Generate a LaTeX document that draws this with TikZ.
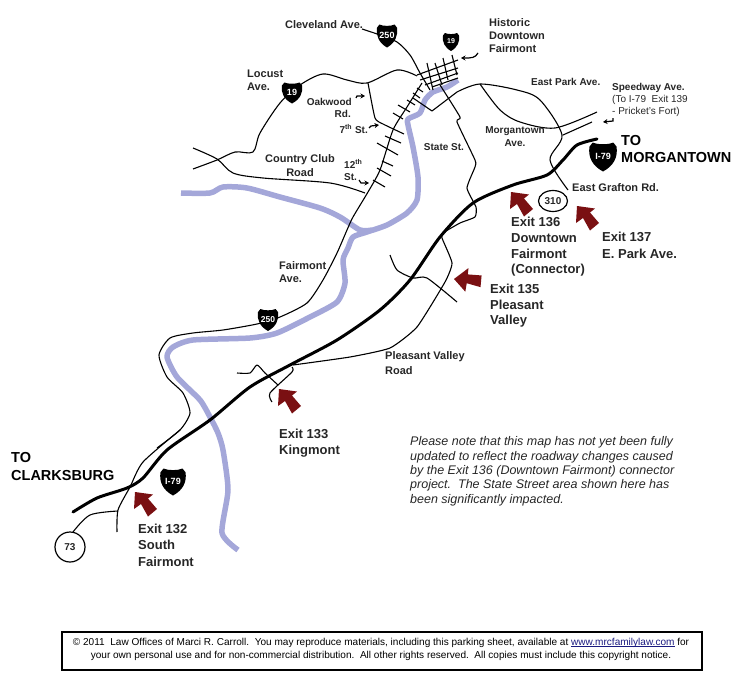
\documentclass[tikz,border=0pt]{standalone}
\usepackage{fontspec}
\setmainfont{Liberation Sans}
\usetikzlibrary{arrows.meta,shapes.geometric}
\definecolor{river}{HTML}{A4A7D9}
\definecolor{exitred}{HTML}{7A1012}
\definecolor{inktext}{HTML}{262626}
\newcommand{\fs}[1]{\fontsize{#1}{#1}\selectfont}
\newcommand{\linkline}[1]{\setbox0\hbox{#1}\rlap{\rule[-1.4pt]{\wd0}{.55pt}}\box0}
\newcommand{\shieldmark}[7]{%
  \begin{scope}[shift={(#2,#3)},x=#4pt,y=#5pt]
    \fill[black] (-.5,.36) -- (-.38,.5) .. controls (-.2,.42) and (.2,.42) .. (.38,.5) -- (.5,.36)
      .. controls (.56,0) and (.4,-.3) .. (0,-.5) .. controls (-.4,-.3) and (-.56,0) .. (-.5,.36) -- cycle;
    \node[shieldtext,font=\bfseries\fs{#7}] (#1) at (0,.03) {#6};
  \end{scope}}
\newcommand{\exitarrow}[4]{%
  \begin{scope}[shift={(#2,#3)},rotate=#4]
    \fill[exitred] (0,0) -- (-1,17) -- (6,12) -- (13,24.5) -- (22,17) -- (13,6.5) -- (18,2.5) -- cycle;
    \coordinate (#1) at (0,0);
  \end{scope}}
\tikzset{
  rivercourse/.style={draw=river,line width=5.5pt,line join=round,line cap=butt},
  road/.style={draw=black,line width=1.1pt,line join=round},
  interstate/.style={draw=black,line width=3pt,line join=round,line cap=round},
  tie/.style={draw=black,line width=1.1pt},
  pointer/.style={draw=black,line width=1.2pt,-{Stealth[length=4.5pt,width=5pt]}},
  lab/.style={text=inktext,font=\bfseries\fs{11},align=center,inner sep=0pt},
  labl/.style={lab,anchor=west,align=left},
  labr/.style={lab,anchor=east,align=right},
  plain/.style={text=inktext,font=\fs{11},anchor=west,inner sep=0pt},
  exitlab/.style={text=inktext,font=\bfseries\fs{13},anchor=west,inner sep=0pt},
  bigl/.style={text=black,font=\bfseries\fs{14.5},anchor=west,inner sep=0pt},
  note/.style={text=inktext,font=\itshape\fs{12.5},anchor=west,inner sep=0pt},
  copyl/.style={text=black,font=\fs{10.05},inner sep=0pt},
  shieldtext/.style={text=white,inner sep=0pt}
}
\begin{document}
\begin{tikzpicture}[x=1pt,y=-1pt]
\useasboundingbox (0,0) rectangle (737,680);
% rivers
\draw[rivercourse] plot[smooth,tension=.45] coordinates {(181,193)(210,193)(223,187)(247,188)(280,197)(320,208)(340,217)(360,230)(372,230)};
\draw[rivercourse] plot[smooth,tension=.4] coordinates {(458,80)(447,87)(433,92)(425,100)(420,113)(408,119)(408,125)(413,147)(418,177)(417,200)(407,213)(387,225)(367,232)(353,237)(348,248)(343,260)(345,283)(337,302)(310,317)(277,333)(250,338)(193,340)(173,347)(167,357)(177,377)(200,400)(210,417)(218,433)(223,450)(228,490)(222,533)(238,550)};
% roads
\draw[road] plot[smooth,tension=.5] coordinates {(362,29)(380,35)(397,42)(410,55)(420,73)(430,90)};
\draw[road] plot[smooth,tension=.5] coordinates {(193,169)(217,160)(235,152)(253,152)(260,133)(280,103)(300,85)(323,74)(347,80)(367,83)(397,70)(417,76)};
\draw[road] plot[smooth,tension=.5] coordinates {(193,148)(217,159)(233,173)(263,178)(330,183)(365,193)};
\draw[road] plot[smooth,tension=.3] coordinates {(368,83)(375,118)(383,124)(404,134)};
\draw[road] plot[smooth,tension=.4] coordinates {(422,83)(407,107)(393,130)(380,170)(368,192)(353,217)(347,230)(337,253)(323,280)(307,303)(280,317)(257,324)(223,330)(193,333)(170,338)(159,355)(167,377)(183,393)(190,413)(180,430)(157,448)};
\draw[road] plot[smooth,tension=.4] coordinates {(180,430)(143,462)(130,487)(118,510)(117,532)};
\draw[road] plot[smooth,tension=.5] coordinates {(73,532)(90,515)(118,511)};
\foreach \a/\b/\c/\d in {373/180/385/187,377/168/391/176,382/161/393/166,377/143/398/155,385/136/401/143,393/113/403/119,398/105/410/112,407/100/415/105,413/93/420/98,417/88/423/92}
  \draw[tie] (\a,\b) -- (\c,\d);
\foreach \a/\b/\c/\d in {417/75/458/60,420/80/458/68,425/85/458/73,432/87/458/78,427/63/433/90,435/63/442/85,443/58/448/80,452/55/457/75}
  \draw[tie] (\a,\b) -- (\c,\d);
\draw[road] plot[smooth,tension=.3] coordinates {(440,85)(460,117)(457,122)(475,160)(475,167)(467,188)(476,207)(475,217)(460,223)(443,233)(442,238)(452,263)(445,282)(417,327)(390,348)(350,357)(293,365)};
\draw[road] plot[smooth,tension=.4] coordinates {(292,367)(292,372)(270,393)(272,402)};
\draw[road] plot[smooth,tension=.4] coordinates {(237,373)(250,373)(257,365)(265,373)(278,385)};
\draw[road] plot[smooth,tension=.4] coordinates {(390,255)(397,270)(413,278)(427,278)(457,302)};
\draw[road] (413,98) -- (432,111) -- (457,92);
\draw[road] plot[smooth,tension=.5] coordinates {(457,92)(480,84)(517,90)(540,100)(562,135)(550,160)(568,190)};
\draw[road] plot[smooth,tension=.5] coordinates {(480,84)(500,110)(520,122)(555,128)(597,112)};
\draw[road] (563,135) -- (592,122);
% interstate
\draw[interstate] plot[smooth,tension=.45] coordinates {(73,512)(97,498)(127,488)(143,478)(167,450)(210,420)(250,387)(290,365)(337,340)(380,310)(410,280)(440,237)(473,203)(513,185)(547,175)(563,160)(577,145)(597,139)};
% shields
\shieldmark{sa}{387}{36}{20}{23}{250}{9}
\shieldmark{sb}{451}{42}{16}{18}{19}{7}
\shieldmark{sc}{292}{93}{20}{21}{19}{9}
\shieldmark{sd}{268}{320}{20}{22}{250}{8.5}
\shieldmark{se}{603}{157}{27}{29}{I-79}{9}
\shieldmark{sf}{173}{482}{25}{27}{I-79}{9}
% route circles
\node[draw=black,line width=1.2pt,ellipse,minimum width=29pt,minimum height=21pt,inner sep=0pt,font=\bfseries\fs{10},text=inktext] (r310) at (553,201) {310};
\node[draw=black,line width=1.2pt,circle,minimum size=30pt,inner sep=0pt,font=\bfseries\fs{10},text=inktext] (r73) at (70,547) {73};
% red arrows
\exitarrow{ea}{511}{192}{0}
\exitarrow{eb}{577}{206}{0}
\exitarrow{ec}{279}{389}{0}
\exitarrow{ed}{135}{492}{0}
\exitarrow{ee}{454}{279}{45}
% small pointers
\draw[pointer] (478,53) .. controls (475,58) and (472,58) .. (461,58);
\draw[pointer] (356,98) -- (357,96) -- (365,96);
\draw[pointer] (369,128) -- (371,126) -- (379,125);
\draw[pointer] (359,180) -- (361,183) -- (369,183);
\draw[pointer] (613,118) -- (613,121) -- (603,122);
% labels
\node[lab] (tcleve) at (324,25) {Cleveland Ave.};
\node[labl] (thist) at (489,23) {Historic};
\node[labl] (tdown) at (489,36) {Downtown};
\node[labl] (tfair) at (489,49) {Fairmont};
\node[labl] (tloc) at (247,74) {Locust};
\node[labl] (tlocb) at (247,87) {Ave.};
\node[labr,font=\bfseries\fs{10}] (toak) at (352,102) {Oakwood};
\node[labr,font=\bfseries\fs{10}] (toakb) at (351,114) {Rd.};
\node[labr,font=\bfseries\fs{10}] (tseven) at (368,129) {7\textsuperscript{th} St.};
\node[labl,font=\bfseries\fs{10}] (ttw) at (344,164) {12\textsuperscript{th}};
\node[labl,font=\bfseries\fs{10}] (ttwb) at (344,177) {St.};
\node[lab] (tcc) at (300,160) {Country Club};
\node[lab] (tccb) at (300,173) {Road};
\node[lab,font=\bfseries\fs{10}] (tstate) at (444,147) {State St.};
\node[labl,font=\bfseries\fs{10}] (tep) at (531,82) {East Park Ave.};
\node[labl,font=\bfseries\fs{10}] (tsp) at (612,88) {Speedway Ave.};
\node[plain,font=\fs{10}] (tspb) at (612,100) {(To I-79\ \ Exit 139};
\node[plain,font=\fs{10}] (tspc) at (612,112) {- Pricket's Fort)};
\node[lab,font=\bfseries\fs{10}] (tmg) at (515,131) {Morgantown};
\node[lab,font=\bfseries\fs{10}] (tmgb) at (515,143) {Ave.};
\node[bigl] (tto) at (621,141) {TO};
\node[bigl] (tmor) at (621,158) {MORGANTOWN};
\node[labl] (tgraf) at (572,188) {East Grafton Rd.};
\node[exitlab] (xa) at (511,222) {Exit 136};
\node[exitlab] (xb) at (511,238) {Downtown};
\node[exitlab] (xc) at (511,254) {Fairmont};
\node[exitlab] (xd) at (511,270) {(Connector)};
\node[exitlab] (xe) at (602,237) {Exit 137};
\node[exitlab] (xf) at (602,254) {E. Park Ave.};
\node[exitlab] (xg) at (490,289) {Exit 135};
\node[exitlab] (xh) at (490,305) {Pleasant};
\node[exitlab] (xi) at (490,321) {Valley};
\node[labl] (tfa) at (279,266) {Fairmont};
\node[labl] (tfb) at (279,279) {Ave.};
\node[labl] (tpv) at (385,357) {Pleasant Valley};
\node[labl] (tpvb) at (385,371) {Road};
\node[exitlab] (xj) at (279,434) {Exit 133};
\node[exitlab] (xk) at (279,451) {Kingmont};
\node[bigl] (tto2) at (11,458) {TO};
\node[bigl] (tcl) at (11,476) {CLARKSBURG};
\node[exitlab] (xl) at (138,529) {Exit 132};
\node[exitlab] (xm) at (138,545) {South};
\node[exitlab] (xn) at (138,562) {Fairmont};
% note
\node[note] (na) at (410,442) {Please note that this map has not yet been fully};
\node[note] (nb) at (410,457) {updated to reflect the roadway changes caused};
\node[note] (nc) at (410,471) {by the Exit 136 (Downtown Fairmont) connector};
\node[note] (nd) at (410,485.5) {project.\ \ The State Street area shown here has};
\node[note] (ne) at (410,500) {been significantly impacted.};
% copyright
\node[draw=black,line width=1.2pt,minimum width=640pt,minimum height=38pt,inner sep=0pt] (cbox) at (382,651) {};
\node[copyl] (ca) at (381,643) {© 2011\ \ Law Offices of Marci R. Carroll.\ \ You may reproduce materials, including this parking sheet, available at \textcolor[HTML]{1A1A80}{\linkline{www.mrcfamilylaw.com}} for};
\node[copyl] (cb) at (381,656) {your own personal use and for non-commercial distribution.\ \ All other rights reserved.\ \ All copies must include this copyright notice.};
\end{tikzpicture}
\end{document}
